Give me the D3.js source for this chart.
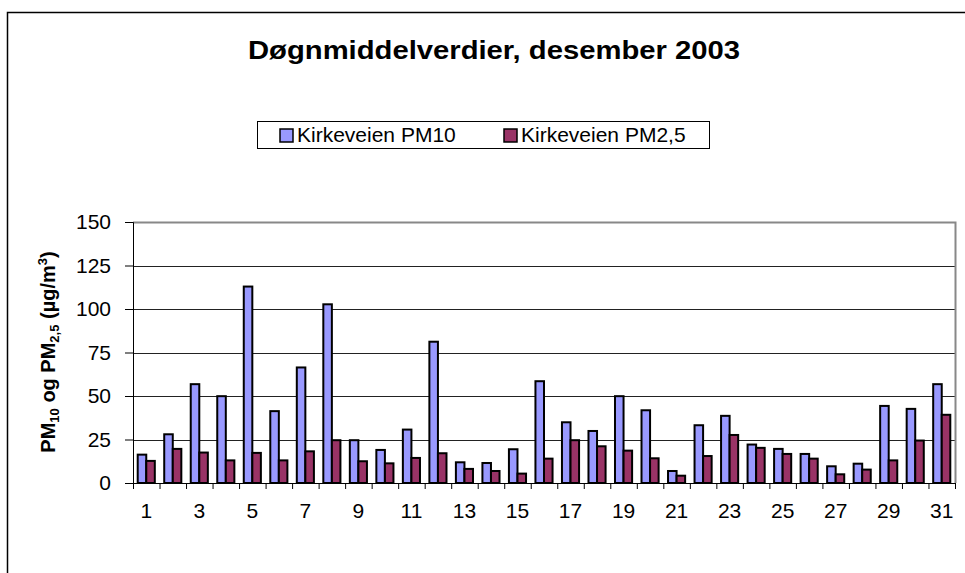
<!DOCTYPE html>
<html lang="no">
<head>
    <meta charset="UTF-8">
    <title>Døgnmiddelverdier, desember 2003</title>
    <script src="https://d3js.org/d3.v7.min.js"></script>
    <style>
        body { margin: 0; background: #fff; }
        svg { display: block; font-family: "Liberation Sans", Arial, sans-serif; }
    </style>
</head>
<body>
    <div id="chart"></div>

    <script>
        // dager i desember
        var days = d3.range(1, 32);
        var seriesNames = ["Kirkeveien PM10", "Kirkeveien PM2,5"];
        var pm10 = [16.3, 28, 56.8, 49.9, 112.9, 41.3, 66.4, 102.7, 24.6, 19, 30.7,
                    81.2, 11.9, 11.5, 19.4, 58.5, 34.9, 29.9, 49.9, 41.8, 6.9,
                    33.2, 38.6, 22.1, 19.6, 16.7, 9.6, 11.1, 44.3, 42.6, 56.8];
        var pm25 = [12.7, 19.6, 17.5, 13, 17.3, 13, 18.2, 24.6, 12.5, 11.3, 14.4,
                    17.1, 8.1, 6.9, 5.4, 14, 24.6, 21.1, 18.6, 14.2, 4.2,
                    15.5, 27.6, 20.2, 16.7, 14, 5, 7.7, 13, 24.4, 39.2];
        var yTicks = [0, 25, 50, 75, 100, 125, 150];
        var colors = ["#9999ff", "#993366"];

        var width = 965, height = 573;
        var plotLeft = 133, plotRight = 955, plotTop = 222, plotBottom = 483;
        var fontFam = "Liberation Sans, Arial, sans-serif";

        var svg = d3.select("#chart").append("svg")
            .attr("width", width)
            .attr("height", height);

        // ytre ramme (går ut av bildet til høyre og nede)
        svg.append("rect")
            .attr("x", 7.5).attr("y", 12.5)
            .attr("width", 980).attr("height", 600)
            .attr("fill", "none").attr("stroke", "#000").attr("stroke-width", 1.5);

        svg.append("text")
            .attr("x", 494).attr("y", 59)
            .attr("text-anchor", "middle")
            .attr("font-size", 26).attr("font-weight", "bold")
            .attr("textLength", 492).attr("lengthAdjust", "spacingAndGlyphs")
            .text("Døgnmiddelverdier, desember 2003");

        var x = d3.scaleBand().domain(days).range([plotLeft, plotRight]).padding(0);
        var xEdges = d3.scaleLinear().domain([0, 31]).range([plotLeft, plotRight]);
        var y = d3.scaleLinear().domain([0, 150]).range([plotBottom, plotTop]);

        var inner = d3.scaleBand().domain([0, 1])
            .range([0, x.bandwidth()])
            .paddingInner(0).paddingOuter(0.55);

        // rutenett
        svg.append("g")
            .selectAll("line")
            .data(yTicks.slice(1, -1))
            .enter().append("line")
            .attr("x1", plotLeft).attr("x2", plotRight)
            .attr("y1", function(d) { return Math.round(y(d)) + 0.5; })
            .attr("y2", function(d) { return Math.round(y(d)) + 0.5; })
            .attr("stroke", "#222").attr("stroke-width", 1);

        // plottramme topp og høyre
        svg.append("path")
            .attr("d", "M" + plotLeft + "," + (plotTop + 0.5) + "H" + (plotRight + 0.5) + "V" + plotBottom)
            .attr("fill", "none").attr("stroke", "#888").attr("stroke-width", 2);

        // søyler
        var series = [pm10, pm25];
        series.forEach(function(vals, s) {
            svg.append("g")
                .selectAll("rect")
                .data(vals)
                .enter().append("rect")
                .attr("x", function(d, i) { return x(days[i]) + inner(s); })
                .attr("y", function(d) { return y(d); })
                .attr("width", inner.bandwidth())
                .attr("height", function(d) { return plotBottom - y(d); })
                .attr("fill", colors[s])
                .attr("stroke", "#000").attr("stroke-width", 2);
        });

        // y-akse
        var yAxis = svg.append("g")
            .attr("transform", "translate(" + plotLeft + ",0)")
            .call(d3.axisLeft(y).tickValues(yTicks).tickSize(8).tickPadding(14));
        yAxis.selectAll("text").attr("font-size", 21).attr("fill", "#000")
            .attr("font-family", fontFam);
        yAxis.selectAll("line,path").attr("stroke", "#000");

        // x-akse: tikk mellom kategorier
        var xTickAxis = svg.append("g")
            .attr("transform", "translate(0," + plotBottom + ")")
            .call(d3.axisBottom(xEdges).tickValues(d3.range(0, 32)).tickSize(6).tickFormat(""));
        xTickAxis.selectAll("line,path").attr("stroke", "#000");
        xTickAxis.select(".domain").attr("d", "M" + plotLeft + ",0.5H" + plotRight);

        var xLabels = svg.append("g")
            .attr("transform", "translate(0," + plotBottom + ")")
            .call(d3.axisBottom(x).tickValues(days.filter(function(d) { return d % 2 === 1; }))
                .tickSize(0).tickPadding(20));
        xLabels.select(".domain").remove();
        xLabels.selectAll("text").attr("font-size", 21).attr("fill", "#000")
            .attr("font-family", fontFam);

        // y-tittel
        var yTitle = svg.append("text")
            .attr("transform", "translate(55,352) rotate(-90)")
            .attr("text-anchor", "middle")
            .attr("font-size", 20).attr("font-weight", "bold");
        yTitle.append("tspan").text("PM");
        yTitle.append("tspan").attr("font-size", 13).attr("dy", 4).text("10");
        yTitle.append("tspan").attr("dy", -4).text(" og PM");
        yTitle.append("tspan").attr("font-size", 13).attr("dy", 4).text("2,5");
        yTitle.append("tspan").attr("dy", -4).text(" (µg/m");
        yTitle.append("tspan").attr("font-size", 13).attr("dy", -8).text("3");
        yTitle.append("tspan").attr("dy", 8).text(")");

        // forklaring
        var legend = svg.append("g");
        legend.append("rect")
            .attr("x", 257.5).attr("y", 121.5)
            .attr("width", 452).attr("height", 27)
            .attr("fill", "#fff").attr("stroke", "#000").attr("stroke-width", 1);
        var legendX = [280, 504];
        seriesNames.forEach(function(name, i) {
            legend.append("rect")
                .attr("x", legendX[i]).attr("y", 129)
                .attr("width", 13).attr("height", 13)
                .attr("fill", colors[i]).attr("stroke", "#000").attr("stroke-width", 1.5);
            legend.append("text")
                .attr("x", legendX[i] + 17).attr("y", 142)
                .attr("font-size", 21)
                .text(name);
        });
    </script>
</body>
</html>
